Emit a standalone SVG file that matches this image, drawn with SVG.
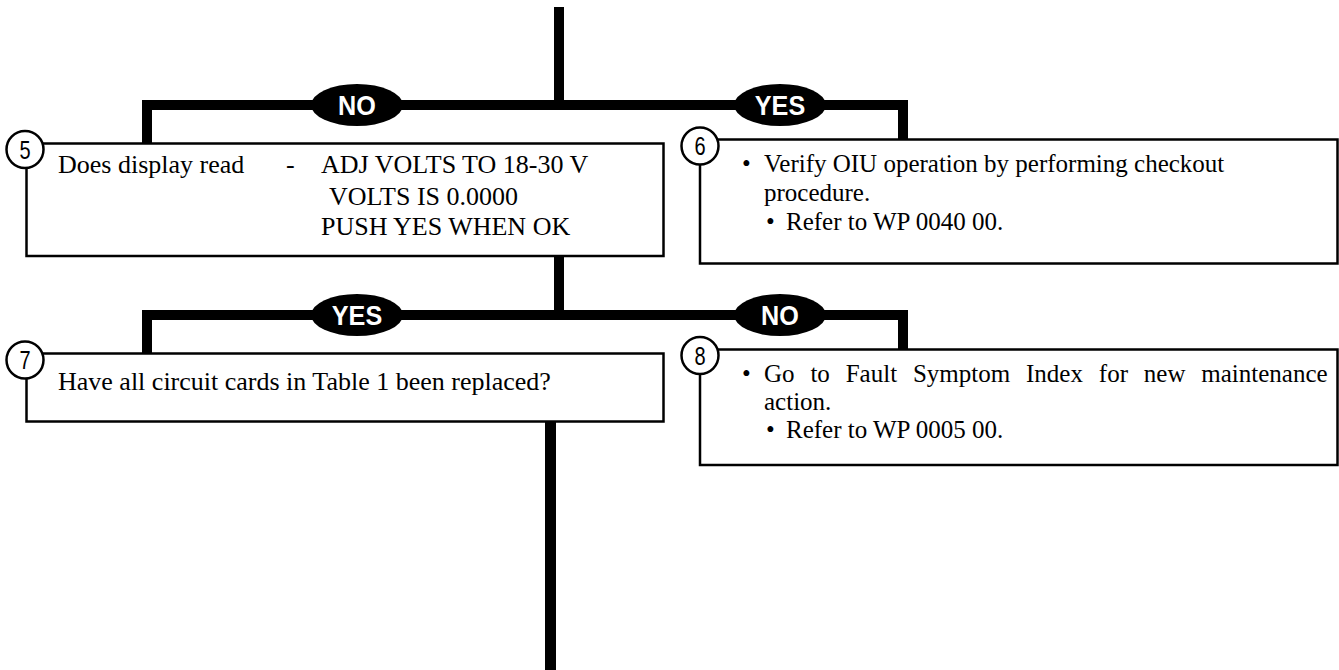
<svg xmlns="http://www.w3.org/2000/svg" width="1339" height="670" viewBox="0 0 1339 670">
<style>
.box{fill:#fff;stroke:#000;stroke-width:2.5}
.num{fill:#fff;stroke:#000;stroke-width:2.5}
.numt{font-family:"Liberation Sans",Arial,sans-serif;font-size:25px;fill:#000;text-anchor:middle}
.t{font-family:"Liberation Serif","Times New Roman",serif;font-size:26px;fill:#000}
.t2{font-family:"Liberation Serif","Times New Roman",serif;font-size:25px;fill:#000}
.lbl{font-family:"Liberation Sans",Arial,sans-serif;font-size:28px;font-weight:bold;fill:#fff;text-anchor:middle}
.oval{fill:#000}
.bar{fill:#000}
</style>
<rect width="1339" height="670" fill="#fff"/>
<g id="connectors">
  <rect class="bar" x="554" y="7" width="10" height="100"/>
  <rect class="bar" x="142" y="100" width="766" height="10"/>
  <rect class="bar" x="142" y="100" width="10" height="44"/>
  <rect class="bar" x="898" y="100" width="10" height="40"/>
  <rect class="bar" x="554" y="256" width="10" height="60"/>
  <rect class="bar" x="142" y="310" width="766" height="10"/>
  <rect class="bar" x="142" y="310" width="10" height="44"/>
  <rect class="bar" x="898" y="310" width="10" height="40"/>
  <rect class="bar" x="545" y="421" width="11" height="249"/>
  <g id="label-no-1"><ellipse class="oval" cx="357" cy="105" rx="46" ry="21"/><text class="lbl" transform="translate(357,115) scale(0.9,1)">NO</text></g>
  <g id="label-yes-1"><ellipse class="oval" cx="780" cy="105" rx="46" ry="21"/><text class="lbl" transform="translate(780,115) scale(0.9,1)">YES</text></g>
  <g id="label-yes-2"><ellipse class="oval" cx="357" cy="315" rx="46" ry="21"/><text class="lbl" transform="translate(357,325) scale(0.9,1)">YES</text></g>
  <g id="label-no-2"><ellipse class="oval" cx="780" cy="315" rx="46" ry="21"/><text class="lbl" transform="translate(780,325) scale(0.9,1)">NO</text></g>
</g>
<g id="node5">
  <rect class="box" x="26.5" y="143.5" width="637" height="112.5"/>
  <circle class="num" cx="25" cy="149.5" r="18.5"/>
  <text class="numt" transform="translate(25,158.5) scale(0.8,1)">5</text>
  <text class="t" x="58" y="173">Does display read</text>
  <text class="t" x="286" y="173">-</text>
  <text class="t" x="321" y="173">ADJ VOLTS TO 18-30 V</text>
  <text class="t" x="329" y="205">VOLTS IS 0.0000</text>
  <text class="t" x="321" y="235">PUSH YES WHEN OK</text>
</g>
<g id="node6">
  <rect class="box" x="700" y="139.5" width="637.5" height="124"/>
  <circle class="num" cx="700" cy="146" r="18.5"/>
  <text class="numt" transform="translate(700,155) scale(0.8,1)">6</text>
  <text class="t2" x="742" y="172">•</text>
  <text class="t2" x="764" y="172">Verify OIU operation by performing checkout</text>
  <text class="t2" x="764" y="201">procedure.</text>
  <text class="t2" x="766" y="230">•</text>
  <text class="t2" x="786" y="230">Refer to WP 0040 00.</text>
</g>
<g id="node7">
  <rect class="box" x="26.5" y="353.5" width="637" height="68"/>
  <circle class="num" cx="25" cy="360" r="18.5"/>
  <text class="numt" transform="translate(25,369) scale(0.8,1)">7</text>
  <text class="t" x="58" y="390">Have all circuit cards in Table 1 been replaced?</text>
</g>
<g id="node8">
  <rect class="box" x="700" y="349.5" width="637.5" height="115.5"/>
  <circle class="num" cx="700" cy="355.5" r="18.5"/>
  <text class="numt" transform="translate(700,364.5) scale(0.8,1)">8</text>
  <text class="t2" x="742" y="382">•</text>
  <text class="t2" x="764" y="382" word-spacing="9.6">Go to Fault Symptom Index for new maintenance</text>
  <text class="t2" x="764" y="410">action.</text>
  <text class="t2" x="766" y="438">•</text>
  <text class="t2" x="786" y="438">Refer to WP 0005 00.</text>
</g>
</svg>
